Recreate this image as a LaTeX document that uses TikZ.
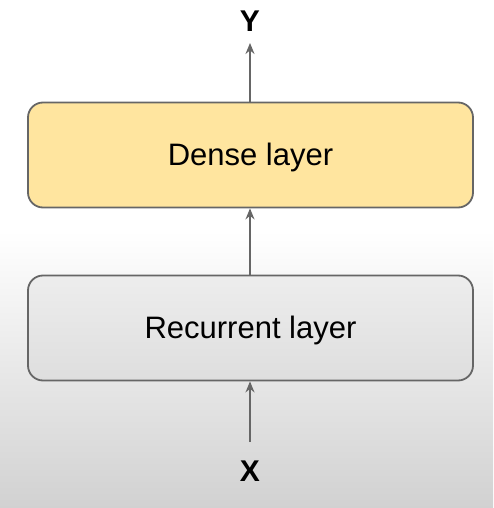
\documentclass[tikz,border=0pt]{standalone}
\usepackage{fontspec}
\setmainfont{Liberation Sans}
\usetikzlibrary{arrows.meta}
\definecolor{boxborder}{HTML}{666666}
\definecolor{densefill}{HTML}{FFE59F}
\definecolor{arrowgray}{HTML}{666666}
\begin{document}
\begin{tikzpicture}[x=1pt,y=-1pt,
  layerbox/.style={draw=boxborder, line width=1.8pt, rounded corners=15pt,
    minimum width=445pt, minimum height=105pt, inner sep=0pt,
    text height=28pt, text depth=7pt, font=\fontsize{31}{36}\selectfont},
  conn/.style={draw=arrowgray, line width=1.6pt, -{Stealth[length=11pt,width=9pt]}},
  varlabel/.style={font=\bfseries\fontsize{30}{34}\selectfont, inner sep=0pt}]
  \useasboundingbox (0,0) rectangle (493,508);
  \fill[white] (0,0) rectangle (493,232);
  \shade[top color=white, bottom color=black!18] (0,231) rectangle (493,508);
  \node[layerbox, fill=densefill] (dense) at (250.5,155) {Dense layer};
  \node[layerbox, top color=black!7, bottom color=black!13] (rec) at (250.5,328) {Recurrent layer};
  \node[varlabel] (y) at (250,21) {Y};
  \node[varlabel] (x) at (250,471) {X};
  \coordinate (ytip) at (250,43);
  \coordinate (xtail) at (250,442);
  \draw[conn] (dense.north -| ytip) -- (ytip);
  \draw[conn] (rec.north -| ytip) -- (dense.south -| ytip);
  \draw[conn] (xtail) -- (rec.south -| xtail);
\end{tikzpicture}
\end{document}
